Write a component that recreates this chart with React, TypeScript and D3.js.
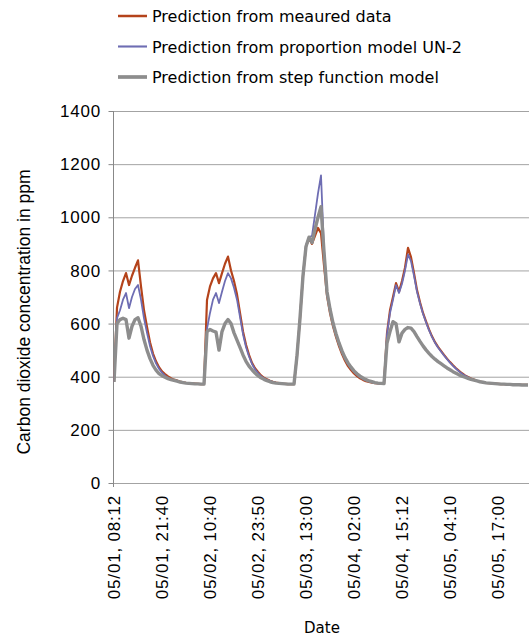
import React from "react";
import * as d3 from "d3";

// tick labels, one every 16 readings
const tickLabels = [
  "05/01, 08:12",
  "05/01, 21:40",
  "05/02, 10:40",
  "05/02, 23:50",
  "05/03, 13:00",
  "05/04, 02:00",
  "05/04, 15:12",
  "05/05, 04:10",
  "05/05, 17:00",
];
const tickStep = 16;

const seriesNames = [
  "Prediction from meaured data",
  "Prediction from proportion model UN-2",
  "Prediction from step function model",
];

// CO2 in ppm
const measured = [
  380, 660, 720, 760, 790, 745, 780, 810, 838, 740, 650, 587, 530, 487, 458, 436, 420, 410, 401, 394,
  389, 386, 382, 379, 377, 376, 375, 374, 373, 372, 372,
  689, 740, 770, 790, 752, 790, 825, 852, 800, 760, 710, 640, 570, 520, 482, 452, 432, 418, 405, 396,
  390, 385, 381, 378, 376, 374, 373, 372, 372, 372,
  480, 620, 780, 890, 920, 900, 930, 960, 940, 820, 705, 640, 590, 550, 515, 485, 460, 440, 425, 412,
  402, 394, 388, 383, 380, 378, 376, 375, 374, 374,
  564, 650, 700, 752, 720, 760, 810, 885, 850, 790, 726, 680, 640, 608, 578, 552, 530, 512, 497, 482,
  468, 455, 443, 432, 422, 413, 405, 399, 393, 389, 385, 382, 379, 377, 376, 375, 374, 373, 372, 372,
  371, 371, 370, 370, 370, 369, 369, 369,
];

const proportion = [
  380, 620, 650, 690, 715, 658, 700, 730, 745, 690, 620, 565, 515, 478, 450, 430, 415, 404, 396, 390,
  386, 383, 380, 378, 376, 375, 374, 373, 373, 372, 372,
  580, 640, 690, 715, 677, 720, 760, 790, 770, 735, 690, 625, 560, 512, 476, 448, 428, 414, 402, 394,
  388, 384, 380, 377, 375, 374, 373, 372, 372, 372,
  480, 620, 780, 895, 925, 930, 1010, 1090, 1158, 880, 715, 650, 598, 558, 522, 492, 467, 447, 431, 418,
  407, 398, 391, 386, 382, 379, 377, 375, 374, 374,
  560, 640, 690, 745, 715, 750, 800, 860, 835, 780, 720, 676, 637, 605, 575, 550, 528, 510, 495, 480,
  466, 453, 441, 430, 420, 411, 404, 398, 392, 388, 384, 381, 379, 377, 376, 375, 374, 373, 372, 372,
  371, 371, 370, 370, 370, 369, 369, 369,
];

const stepModel = [
  380, 600, 615, 620, 615, 545, 590, 615, 622, 590, 540, 500, 468, 443, 425, 412, 404, 398, 393, 389,
  386, 383, 380, 378, 376, 375, 374, 373, 373, 372, 372,
  570, 578, 572, 568, 500, 570, 600, 615, 600, 565, 538, 510, 482, 458, 440, 426, 414, 404, 396, 390,
  385, 381, 378, 376, 375, 374, 373, 372, 372, 372,
  480, 620, 780, 890, 925, 905, 955, 1000, 1040, 870, 720, 655, 602, 562, 527, 497, 472, 452, 436, 422,
  411, 402, 395, 389, 384, 381, 378, 376, 375, 374,
  527, 570, 607, 600, 531, 564, 578, 585, 583, 570, 551, 533, 516, 501, 488, 476, 466, 457, 449, 441,
  433, 426, 419, 413, 407, 402, 398, 394, 390, 387, 384, 381, 379, 377, 376, 375, 374, 373, 372, 372,
  371, 371, 370, 370, 370, 369, 369, 369,
];

const yTicks = [0, 200, 400, 600, 800, 1000, 1200, 1400];

const W = 529;
const H = 638;

export default function App() {
  const x = d3.scaleLinear().domain([0, tickStep * 8]).range([114, 498]);
  const y = d3.scaleLinear().domain([0, 1400]).range([483, 111]);
  const axisX = 113.5;
  const line = d3
    .line<number>()
    .x((d, i) => x(i))
    .y((d) => y(d));

  const series = [
    { name: seriesNames[0], data: measured, color: "#b4431b", width: 2.2 },
    { name: seriesNames[1], data: proportion, color: "#6e6db3", width: 1.8 },
    { name: seriesNames[2], data: stepModel, color: "#8d8d8d", width: 3.4 },
  ];

  const tickFont = { fontFamily: "Liberation Sans, Arial, sans-serif", fontSize: 17, letterSpacing: 0.8 };

  return (
    <svg
      width={W}
      height={H}
      style={{ position: "absolute", left: 0, top: 0, background: "#fff" }}
    >
      {/* legend */}
      {series.map((s, i) => (
        <g key={s.name} transform={`translate(0, ${16 + i * 30.5})`}>
          <line x1={118} x2={147} y1={0} y2={0} stroke={s.color} strokeWidth={s.width + 0.3} />
          <text x={152} y={6} fontFamily="DejaVu Sans, Verdana, sans-serif" fontSize={16} fill="#000">
            {s.name}
          </text>
        </g>
      ))}

      {/* grid */}
      {yTicks.map((t) => (
        <g key={t}>
          <line x1={axisX} x2={W} y1={y(t) + 0.5} y2={y(t) + 0.5} stroke="#a3a3a3" strokeWidth={1} />
          <line x1={axisX - 5} x2={axisX} y1={y(t) + 0.5} y2={y(t) + 0.5} stroke="#888" strokeWidth={1} />
          <text x={101} y={y(t)} dy="0.36em" textAnchor="end" {...tickFont} fill="#000">
            {t}
          </text>
        </g>
      ))}
      <line x1={axisX} x2={axisX} y1={y(1400)} y2={487} stroke="#888" strokeWidth={1} />

      {/* series */}
      <clipPath id="plot">
        <rect x={axisX} y={100} width={W - axisX} height={390} />
      </clipPath>
      <g clipPath="url(#plot)">
        {series.map((s) => (
          <path
            key={s.name}
            d={line(s.data) || ""}
            fill="none"
            stroke={s.color}
            strokeWidth={s.width}
            strokeLinejoin="round"
          />
        ))}
      </g>

      {/* x tick labels */}
      {tickLabels.map((lab, i) => (
        <text
          key={lab}
          transform={`translate(${x(i * tickStep)}, 495) rotate(-90)`}
          dy="0.36em"
          textAnchor="end"
          {...tickFont}
          fill="#000"
        >
          {lab}
        </text>
      ))}

      <text x={322} y={633} textAnchor="middle" fontFamily="DejaVu Sans, Verdana, sans-serif" fontSize={15} fill="#000">
        Date
      </text>
      <text
        transform="translate(30, 312) rotate(-90)"
        textAnchor="middle"
        fontFamily="Liberation Sans, Arial, sans-serif"
        fontSize={17.5}
        fill="#000"
      >
        Carbon dioxide concentration in ppm
      </text>
    </svg>
  );
}
